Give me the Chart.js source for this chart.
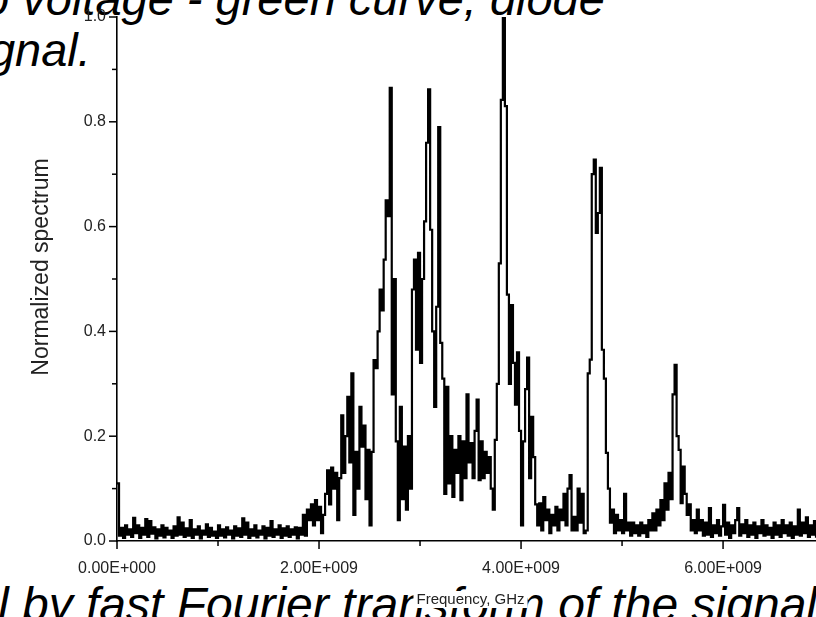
<!DOCTYPE html>
<html>
<head>
<meta charset="utf-8">
<script src="https://cdn.jsdelivr.net/npm/chart.js@4.4.1/dist/chart.umd.min.js"></script>
<style>
  html, body { margin: 0; padding: 0; width: 816px; height: 617px; overflow: hidden; background: #fff; }
  .slide { position: absolute; white-space: nowrap; font: italic 47px/47px "Liberation Sans", Arial, sans-serif; color: #000; }
  #chart { position: absolute; left: 0; top: 0; }
</style>
</head>
<body>
<div class="slide" style="left:-30px; top:-25px;">to voltage - green curve, diode</div>
<div class="slide" style="left:-45px; top:26px;">signal.</div>
<div class="slide" style="left:-2px; top:581px; font-size:48px;">l by fast Fourier transform of the signal</div>
<canvas id="chart" width="816" height="617"></canvas>
<script>
// FFT bin spacing (Hz)
const FREQ_STEP = 0.02e9;

// Normalized spectrum, one value per bin starting at 0 Hz
const spectrum = [
  0.11, 0.01, 0.025, 0.006, 0.03, 0.012, 0.022, 0.008, 0.044, 0.015,
  0.03, 0.006, 0.025, 0.012, 0.042, 0.008, 0.038, 0.014, 0.026, 0.005,
  0.022, 0.01, 0.03, 0.007, 0.025, 0.012, 0.02, 0.006, 0.028, 0.01,
  0.045, 0.012, 0.035, 0.008, 0.024, 0.01, 0.04, 0.006, 0.022, 0.012,
  0.028, 0.005, 0.02, 0.012, 0.032, 0.008, 0.025, 0.01, 0.018, 0.006,
  0.03, 0.01, 0.022, 0.007, 0.026, 0.012, 0.02, 0.005, 0.028, 0.01,
  0.024, 0.008, 0.043, 0.012, 0.035, 0.006, 0.022, 0.01, 0.03, 0.007,
  0.02, 0.012, 0.028, 0.005, 0.025, 0.01, 0.038, 0.008, 0.022, 0.012,
  0.03, 0.006, 0.024, 0.01, 0.028, 0.008, 0.022, 0.012, 0.026, 0.005,
  0.025, 0.012, 0.05, 0.01, 0.06, 0.04, 0.07, 0.03, 0.078, 0.04,
  0.065, 0.015, 0.05, 0.09, 0.135, 0.07, 0.14, 0.1, 0.13, 0.04,
  0.12, 0.24, 0.13, 0.2, 0.275, 0.15, 0.32, 0.05, 0.17, 0.1,
  0.256, 0.18, 0.22, 0.08, 0.174, 0.03, 0.17, 0.345, 0.33, 0.4,
  0.48, 0.44, 0.537, 0.65, 0.62, 0.865, 0.28, 0.5, 0.19, 0.04,
  0.256, 0.08, 0.18, 0.06, 0.2, 0.1, 0.48, 0.537, 0.365, 0.55,
  0.34, 0.5, 0.61, 0.76, 0.862, 0.594, 0.4, 0.256, 0.447, 0.79,
  0.378, 0.31, 0.09, 0.294, 0.11, 0.2, 0.084, 0.174, 0.13, 0.2,
  0.078, 0.19, 0.12, 0.28, 0.15, 0.187, 0.12, 0.21, 0.27, 0.116,
  0.19, 0.12, 0.17, 0.13, 0.16, 0.1, 0.06, 0.193, 0.3, 0.53,
  0.842, 1.0, 0.83, 0.47, 0.3, 0.45, 0.34, 0.26, 0.36, 0.21,
  0.03, 0.19, 0.29, 0.35, 0.12, 0.237, 0.16, 0.07, 0.03, 0.072,
  0.02, 0.084, 0.04, 0.06, 0.015, 0.05, 0.03, 0.065, 0.02, 0.06,
  0.04, 0.09, 0.03, 0.1, 0.126, 0.02, 0.046, 0.02, 0.1, 0.035,
  0.09, 0.015, 0.02, 0.32, 0.346, 0.70, 0.728, 0.588, 0.626, 0.712,
  0.365, 0.31, 0.168, 0.1, 0.035, 0.06, 0.015, 0.05, 0.02, 0.04,
  0.015, 0.09, 0.02, 0.035, 0.01, 0.035, 0.015, 0.03, 0.01, 0.035,
  0.015, 0.03, 0.008, 0.04, 0.02, 0.053, 0.02, 0.06, 0.03, 0.078,
  0.04, 0.11, 0.06, 0.13, 0.08, 0.28, 0.336, 0.2, 0.174, 0.072,
  0.142, 0.09, 0.05, 0.07, 0.02, 0.04, 0.015, 0.06, 0.02, 0.04,
  0.01, 0.035, 0.012, 0.063, 0.008, 0.03, 0.015, 0.04, 0.01, 0.028,
  0.069, 0.012, 0.035, 0.006, 0.03, 0.015, 0.04, 0.063, 0.01, 0.032,
  0.015, 0.04, 0.008, 0.03, 0.012, 0.035, 0.006, 0.028, 0.015, 0.04,
  0.01, 0.03, 0.012, 0.025, 0.006, 0.035, 0.012, 0.03, 0.008, 0.04,
  0.015, 0.03, 0.01, 0.035, 0.006, 0.028, 0.012, 0.06, 0.01, 0.035,
  0.015, 0.045, 0.008, 0.03, 0.012, 0.038, 0.006, 0.03, 0.015, 0.04, 0.01
];

// Axis ticks and labels
const xMajorTicks = [0, 2e9, 4e9, 6e9];
const xTickLabels = ['0.00E+000', '2.00E+009', '4.00E+009', '6.00E+009'];
const xMinorTicks = [1e9, 3e9, 5e9];
const yMajorTicks = [0, 0.2, 0.4, 0.6, 0.8, 1.0];
const yTickLabels = ['0.0', '0.2', '0.4', '0.6', '0.8', '1.0'];
const yMinorTicks = [0.1, 0.3, 0.5, 0.7, 0.9];
const xTitle = 'Frequency, GHz';
const yTitle = 'Normalized spectrum';

const points = spectrum.map((v, i) => ({ x: i * FREQ_STEP, y: v }));

const LABEL_FONT = '"Liberation Sans", Arial, sans-serif';
const LABEL_COLOR = '#222';

// Outward tick marks (long for labelled values, short in between)
const tickMarks = {
  id: 'tickMarks',
  afterDraw(chart) {
    const { ctx, scales: { x, y } } = chart;
    const y0 = y.getPixelForValue(0);
    const x0 = x.getPixelForValue(0);
    ctx.save();
    ctx.strokeStyle = '#000';
    ctx.lineWidth = 1.5;
    const seg = (a, b, c, d) => { ctx.beginPath(); ctx.moveTo(a, b); ctx.lineTo(c, d); ctx.stroke(); };
    xMajorTicks.forEach(v => { const p = x.getPixelForValue(v); seg(p, y0, p, y0 + 8); });
    xMinorTicks.forEach(v => { const p = x.getPixelForValue(v); seg(p, y0, p, y0 + 5); });
    yMajorTicks.forEach(v => { const p = y.getPixelForValue(v); seg(x0 - 8, p, x0, p); });
    yMinorTicks.forEach(v => { const p = y.getPixelForValue(v); seg(x0 - 5, p, x0, p); });
    ctx.restore();
  }
};

// Axis titles; the frequency title sits on a white label box
const axisTitles = {
  id: 'axisTitles',
  afterDraw(chart) {
    const { ctx, scales: { x, y } } = chart;
    ctx.save();
    ctx.fillStyle = LABEL_COLOR;
    ctx.textAlign = 'center';
    ctx.textBaseline = 'middle';

    ctx.font = '23px ' + LABEL_FONT;
    ctx.save();
    ctx.translate(42, (y.top + y.bottom) / 2 - 12);
    ctx.rotate(-Math.PI / 2);
    ctx.fillText(yTitle, 0, 0);
    ctx.restore();

    ctx.font = '15px ' + LABEL_FONT;
    const cx = x.getPixelForValue(3.5e9);
    const cy = 600;
    const w = ctx.measureText(xTitle).width;
    ctx.fillStyle = '#fff';
    ctx.fillRect(cx - w / 2 - 3, cy - 9, w + 6, 17);
    ctx.fillStyle = LABEL_COLOR;
    ctx.fillText(xTitle, cx, cy);
    ctx.restore();
  }
};

new Chart(document.getElementById('chart'), {
  type: 'line',
  data: {
    datasets: [{
      data: points,
      borderColor: '#000',
      borderWidth: 2.2,
      stepped: true,
      pointRadius: 0,
      fill: false
    }]
  },
  options: {
    responsive: false,
    animation: false,
    devicePixelRatio: 1,
    layout: { padding: { top: 17, right: 0, bottom: 0, left: 0 } },
    plugins: { legend: { display: false }, tooltip: { enabled: false } },
    scales: {
      x: {
        type: 'linear',
        min: 0,
        max: 6.92e9,
        afterBuildTicks: s => { s.ticks = xMajorTicks.map(v => ({ value: v })); },
        afterFit: s => { s.height = 76; s.paddingLeft = 0; s.paddingRight = 0; },
        grid: { display: false, drawTicks: false },
        border: { display: true, color: '#000', width: 1.6 },
        ticks: {
          autoSkip: false,
          maxRotation: 0,
          padding: 18,
          color: LABEL_COLOR,
          font: { family: LABEL_FONT, size: 16 },
          callback: v => xTickLabels[xMajorTicks.indexOf(v)]
        }
      },
      y: {
        min: 0,
        max: 1,
        afterBuildTicks: s => { s.ticks = yMajorTicks.map(v => ({ value: v })); },
        afterFit: s => { s.width = 117; s.paddingTop = 0; s.paddingBottom = 0; },
        grid: { display: false, drawTicks: false },
        border: { display: true, color: '#000', width: 1.6 },
        ticks: {
          padding: 11,
          color: LABEL_COLOR,
          font: { family: LABEL_FONT, size: 16 },
          callback: v => yTickLabels[yMajorTicks.indexOf(v)]
        }
      }
    }
  },
  plugins: [tickMarks, axisTitles]
});
</script>
</body>
</html>
